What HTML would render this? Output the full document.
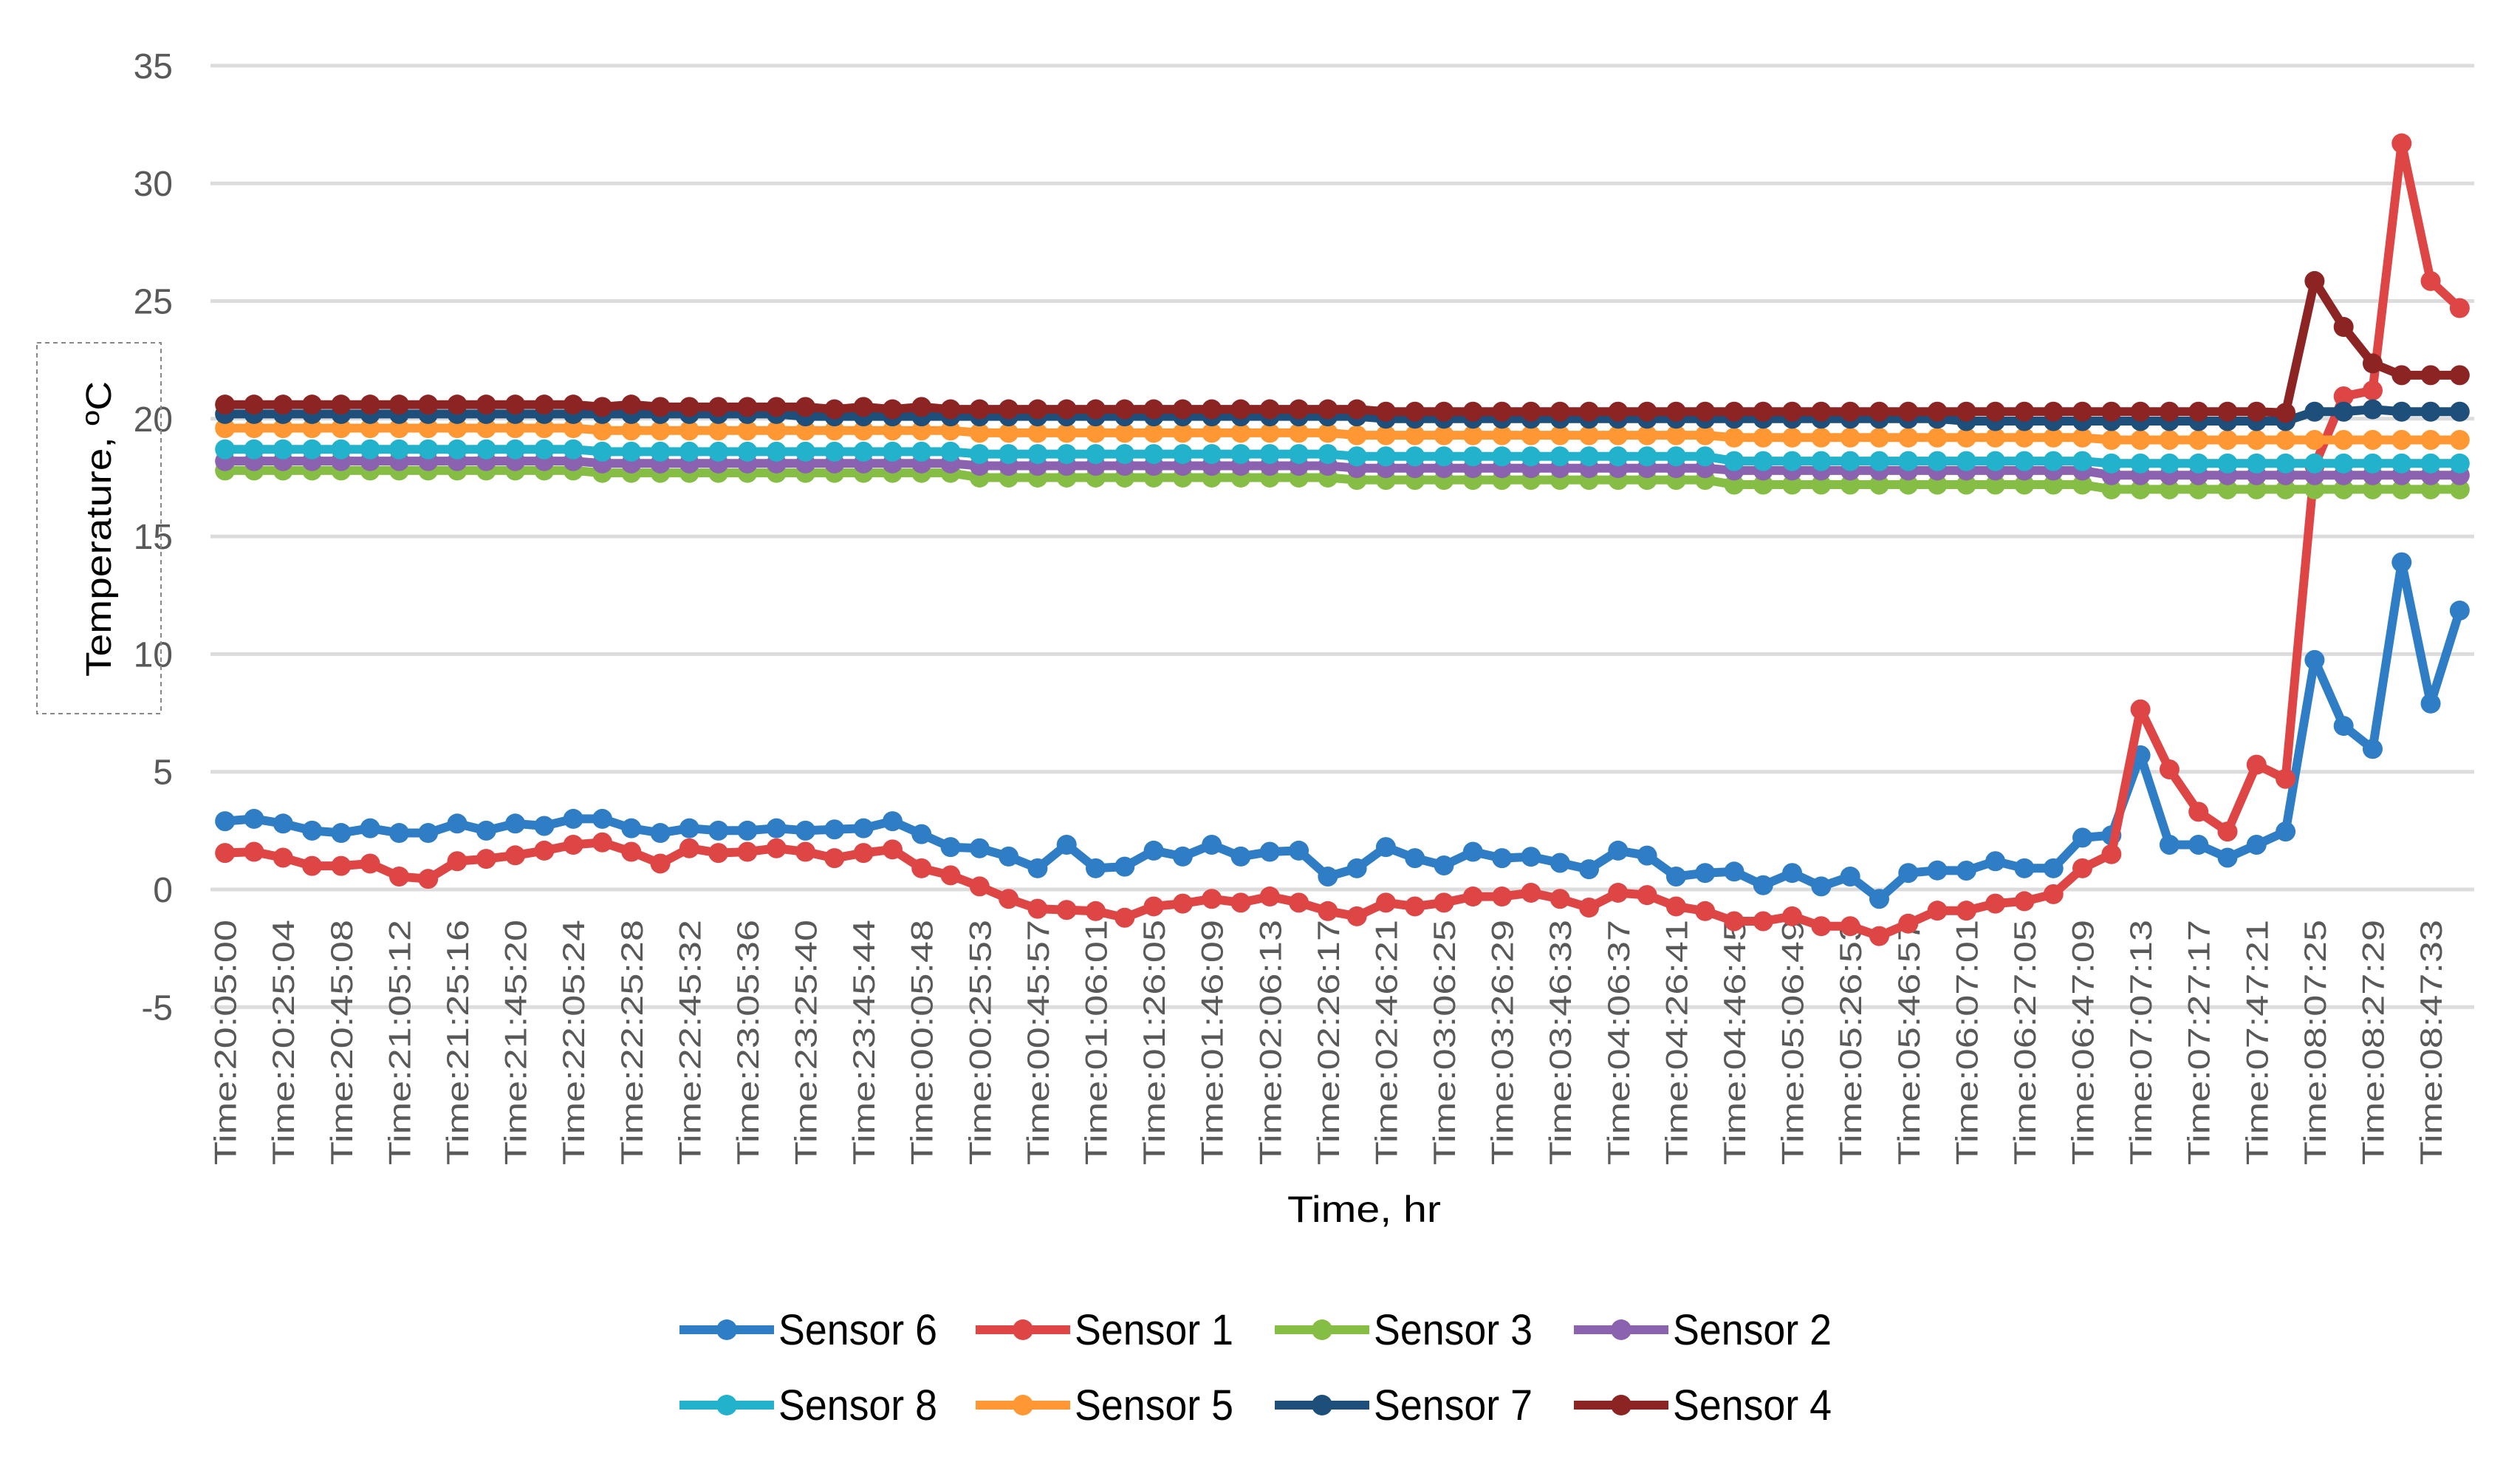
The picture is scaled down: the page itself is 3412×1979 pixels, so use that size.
<!DOCTYPE html>
<html><head><meta charset="utf-8"><style>
html,body{margin:0;padding:0;background:#fff;}
svg{display:block;}
</style></head><body>
<svg id="chart" xmlns="http://www.w3.org/2000/svg" width="3412" height="1979" viewBox="0 0 3412 1979">
<rect x="0" y="0" width="3412" height="1979" fill="#fff"/>
<g id="grid"></g>
<g id="yticks"></g>
<g id="xticks"></g>
<g id="series"></g>
<rect x="50" y="464" width="168" height="502" fill="none" stroke="#888" stroke-width="2" stroke-dasharray="6,5"/>
<text transform="translate(150,716) rotate(-90)" text-anchor="middle" font-family="Liberation Sans, sans-serif" font-size="48" fill="#000" textLength="400" lengthAdjust="spacingAndGlyphs">Temperature, ºC</text>
<text x="1847" y="1654" text-anchor="middle" font-family="Liberation Sans, sans-serif" font-size="50" fill="#000" textLength="208" lengthAdjust="spacingAndGlyphs">Time, hr</text>
<g id="legend"></g>
</svg>
<script>
const yTicks=[-5,0,5,10,15,20,25,30,35];
const xLabels=["20:05:00","20:25:04","20:45:08","21:05:12","21:25:16","21:45:20","22:05:24","22:25:28","22:45:32","23:05:36","23:25:40","23:45:44","00:05:48","00:25:53","00:45:57","01:06:01","01:26:05","01:46:09","02:06:13","02:26:17","02:46:21","03:06:25","03:26:29","03:46:33","04:06:37","04:26:41","04:46:45","05:06:49","05:26:53","05:46:57","06:07:01","06:27:05","06:47:09","07:07:13","07:27:17","07:47:21","08:07:25","08:27:29","08:47:33"];
const seriesNames=["Sensor 6","Sensor 1","Sensor 3","Sensor 2","Sensor 8","Sensor 5","Sensor 7","Sensor 4"];
const seriesColors=["#2f7dc4","#de4545","#86bd45","#8a62b0","#22b2cc","#ff9733","#1e4e7a","#8c2424"];
const sensor6=[2.9,3.0,2.8,2.5,2.4,2.6,2.4,2.4,2.8,2.5,2.8,2.7,3.0,3.0,2.6,2.4,2.6,2.5,2.5,2.6,
2.5,2.55,2.6,2.9,2.35,1.8,1.75,1.4,0.9,1.9,0.9,0.97,1.65,1.4,1.9,1.4,1.6,1.65,0.55,0.9,
1.8,1.33,1.02,1.6,1.33,1.39,1.13,0.86,1.65,1.44,0.55,0.7,0.76,0.18,0.7,0.13,0.55,-0.4,0.7,0.81,
0.8,1.2,0.9,0.9,2.2,2.3,5.7,1.9,1.9,1.35,1.9,2.46,9.75,6.95,5.97,13.9,7.9,11.85];
const sensor1=[1.55,1.6,1.35,1.0,1.0,1.1,0.55,0.45,1.2,1.3,1.45,1.65,1.9,2.0,1.6,1.1,1.75,1.55,1.6,1.75,
1.6,1.33,1.55,1.7,0.9,0.6,0.13,-0.4,-0.82,-0.87,-0.92,-1.2,-0.72,-0.6,-0.4,-0.56,-0.3,-0.56,-0.92,-1.14,
-0.56,-0.72,-0.56,-0.3,-0.3,-0.14,-0.4,-0.77,-0.14,-0.24,-0.72,-0.92,-1.35,-1.35,-1.14,-1.56,-1.56,-1.98,-1.45,-0.9,
-0.9,-0.6,-0.5,-0.2,0.9,1.5,7.65,5.1,3.3,2.46,5.3,4.7,18,20.95,21.2,31.7,25.85,24.7];
const sensor3=[17.8,17.8,17.8,17.8,17.8,17.8,17.8,17.8,17.8,17.8,17.8,17.8,17.8,
17.7,17.7,17.7,17.7,17.7,17.7,17.7,17.7,17.7,17.7,17.7,17.7,17.7,
17.5,17.5,17.5,17.5,17.5,17.5,17.5,17.5,17.5,17.5,17.5,17.5,17.5,
17.4,17.4,17.4,17.4,17.4,17.4,17.4,17.4,17.4,17.4,17.4,17.4,17.4,
17.2,17.2,17.2,17.2,17.2,17.2,17.2,17.2,17.2,17.2,17.2,17.2,17.2,
17.0,17.0,17.0,17.0,17.0,17.0,17.0,17.0,17.0,17.0,17.0,17.0,17.0];
const sensor2=[18.2,18.2,18.2,18.2,18.2,18.2,18.2,18.2,18.2,18.2,18.2,18.2,18.2,
18.1,18.1,18.1,18.1,18.1,18.1,18.1,18.1,18.1,18.1,18.1,18.1,18.1,
18.0,18.0,18.0,18.0,18.0,18.0,18.0,18.0,18.0,18.0,18.0,18.0,18.0,
17.9,17.9,17.9,17.9,17.9,17.9,17.9,17.9,17.9,17.9,17.9,17.9,17.9,
17.8,17.8,17.8,17.8,17.8,17.8,17.8,17.8,17.8,17.8,17.8,17.8,17.8,
17.6,17.6,17.6,17.6,17.6,17.6,17.6,17.6,17.6,17.6,17.6,17.6,17.6];
const sensor8=[18.7,18.7,18.7,18.7,18.7,18.7,18.7,18.7,18.7,18.7,18.7,18.7,18.7,
18.6,18.6,18.6,18.6,18.6,18.6,18.6,18.6,18.6,18.6,18.6,18.6,18.6,
18.5,18.5,18.5,18.5,18.5,18.5,18.5,18.5,18.5,18.5,18.5,18.5,18.5,
18.4,18.4,18.4,18.4,18.4,18.4,18.4,18.4,18.4,18.4,18.4,18.4,18.4,
18.2,18.2,18.2,18.2,18.2,18.2,18.2,18.2,18.2,18.2,18.2,18.2,18.2,
18.1,18.1,18.1,18.1,18.1,18.1,18.1,18.1,18.1,18.1,18.1,18.1,18.1];
const sensor5=[19.6,19.6,19.6,19.6,19.6,19.6,19.6,19.6,19.6,19.6,19.6,19.6,19.6,
19.5,19.5,19.5,19.5,19.5,19.5,19.5,19.5,19.5,19.5,19.5,19.5,19.5,
19.4,19.4,19.4,19.4,19.4,19.4,19.4,19.4,19.4,19.4,19.4,19.4,19.4,
19.3,19.3,19.3,19.3,19.3,19.3,19.3,19.3,19.3,19.3,19.3,19.3,19.3,
19.2,19.2,19.2,19.2,19.2,19.2,19.2,19.2,19.2,19.2,19.2,19.2,19.2,
19.1,19.1,19.1,19.1,19.1,19.1,19.1,19.1,19.1,19.1,19.1,19.1,19.1];
const sensor7=[20.2,20.2,20.2,20.2,20.2,20.2,20.2,20.2,20.2,20.2,20.2,20.2,20.2,20.2,20.2,20.2,20.2,20.2,20.2,20.2,
20.1,20.1,20.1,20.1,20.1,20.1,20.1,20.1,20.1,20.1,20.1,20.1,20.1,20.1,20.1,20.1,20.1,20.1,20.1,20.1,
20.0,20.0,20.0,20.0,20.0,20.0,20.0,20.0,20.0,20.0,20.0,20.0,20.0,20.0,20.0,20.0,20.0,20.0,20.0,20.0,
19.9,19.9,19.9,19.9,19.9,19.9,19.9,19.9,19.9,19.9,19.9,19.9,20.3,20.3,20.4,20.3,20.3,20.3];
const sensor4=[20.6,20.6,20.6,20.6,20.6,20.6,20.6,20.6,20.6,20.6,20.6,20.6,20.6,20.5,20.6,20.5,20.5,20.5,20.5,20.5,
20.5,20.4,20.5,20.4,20.5,20.4,20.4,20.4,20.4,20.4,20.4,20.4,20.4,20.4,20.4,20.4,20.4,20.4,20.4,20.4,
20.3,20.3,20.3,20.3,20.3,20.3,20.3,20.3,20.3,20.3,20.3,20.3,20.3,20.3,20.3,20.3,20.3,20.3,20.3,20.3,
20.3,20.3,20.3,20.3,20.3,20.3,20.3,20.3,20.3,20.3,20.3,20.25,25.85,23.9,22.35,21.85,21.85,21.85];
const seriesData=[sensor6,sensor1,sensor3,sensor2,sensor8,sensor5,sensor7,sensor4];

const NS="http://www.w3.org/2000/svg";
const plotL=285, plotR=3350, y0px=1204, unitPx=31.86;
const nCat=sensor6.length;
const catW=(plotR-plotL)/nCat;
function xPos(i){return plotL+catW*(i+0.5);}
function yPos(v){return y0px-v*unitPx;}
function mk(tag,attrs,parent){const e=document.createElementNS(NS,tag);for(const k in attrs)e.setAttribute(k,attrs[k]);parent.appendChild(e);return e;}

const grid=document.getElementById('grid'), yt=document.getElementById('yticks');
yTicks.forEach(v=>{
  const l=mk('line',{x1:plotL,x2:plotR,y1:yPos(v),y2:yPos(v),stroke:'#dcdcdc','stroke-width':5},grid);
  
  
  const t=mk('text',{x:234,y:yPos(v)+17,'text-anchor':'end','font-family':'Liberation Sans, sans-serif','font-size':48,fill:'#595959'},yt);
  t.textContent=String(v);
  
  
});
const xt=document.getElementById('xticks');
xLabels.forEach((s,k)=>{
  const x=xPos(k*2)+15;
  const t=mk('text',{transform:'translate('+x+',1245) rotate(-90)','text-anchor':'end','font-family':'Liberation Sans, sans-serif','font-size':42,fill:'#595959',textLength:332,lengthAdjust:'spacingAndGlyphs'},xt);
  t.textContent='Time:'+s;
  
  
});
const sg=document.getElementById('series');
seriesData.forEach((arr,si)=>{
  const g=mk('g',{},sg);
  
  
  const pts=arr.map((v,i)=>xPos(i).toFixed(1)+','+yPos(v).toFixed(1)).join(' ');
  const pl=mk('polyline',{points:pts,fill:'none',stroke:seriesColors[si],'stroke-width':12,'stroke-linejoin':'round'},g);
  
  
  arr.forEach((v,i)=>{
    const c=mk('circle',{cx:xPos(i),cy:yPos(v),r:13.5,fill:seriesColors[si]},g);
    
    
  });
});
const lg=document.getElementById('legend');
const legX=[920,1321,1726,2131];
const legY=[1800,1902];
seriesNames.forEach((n,si)=>{
  const col=si%4,row=Math.floor(si/4);
  const x=legX[col],y=legY[row];
  const g=mk('g',{},lg);
  
  
  mk('line',{x1:x,x2:x+128,y1:y,y2:y,stroke:seriesColors[si],'stroke-width':12},g);
  mk('circle',{cx:x+64,cy:y,r:14,fill:seriesColors[si]},g);
  const t=mk('text',{x:x+134,y:y+20,'font-family':'Liberation Sans, sans-serif','font-size':58,fill:'#000',textLength:215,lengthAdjust:'spacingAndGlyphs'},g);
  t.textContent=n;
});
</script>
</body></html>
